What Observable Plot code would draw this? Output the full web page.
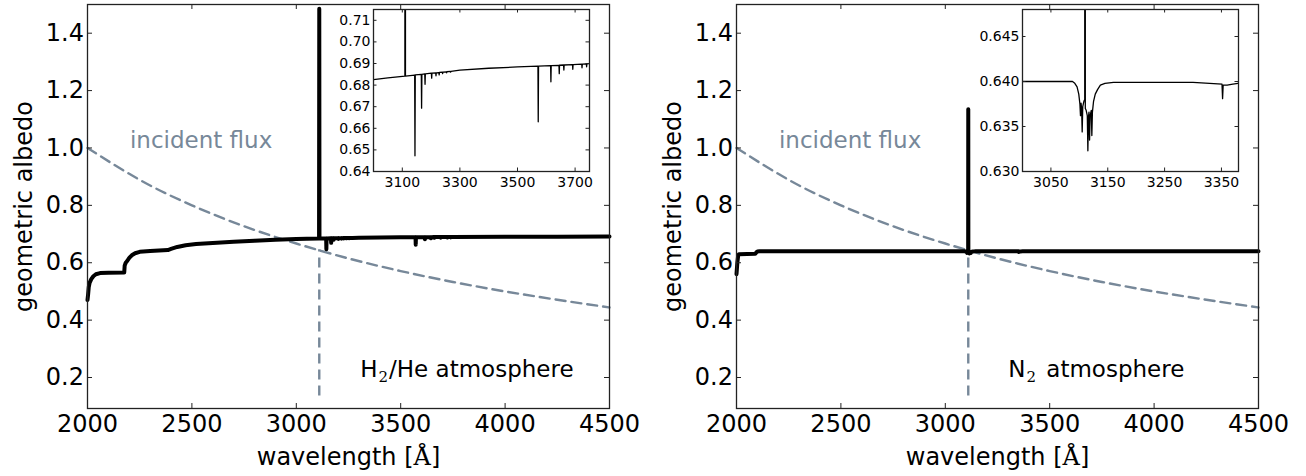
<!DOCTYPE html>
<html>
<head>
<meta charset="utf-8">
<script src="https://cdn.jsdelivr.net/npm/d3@7"></script>
<script src="https://cdn.jsdelivr.net/npm/@observablehq/plot@0.6"></script>
<style>
  html, body { margin: 0; padding: 0; background: #fff; }
  #wrap { position: relative; width: 1306px; height: 476px; overflow: hidden; font-family: "DejaVu Sans"; }
  #wrap > div { position: absolute; top: 0; }
</style>
</head>
<body>
<div id="wrap">
  <div id="leftMain" style="left:0px"></div>
  <div id="rightMain" style="left:653px"></div>
  <div id="leftInset" style="left:323px"></div>
  <div id="rightInset" style="left:962px"></div>
</div>
<script>
// ---------------- data ----------------
// H2/He atmosphere: geometric albedo spectrum
const h2Wave = [2000, 2003, 2006, 2010, 2018, 2028, 2040, 2060, 2100, 2176, 2178, 2183, 2190, 2200, 2212, 2228, 2250, 2300, 2385, 2400, 2430, 2470, 2520, 2600, 2700, 2800, 2900, 3000, 3050,
  3109, 3110, 3111,
  3143, 3144, 3145, 3166, 3167, 3168, 3178, 3179, 3180, 3201, 3202, 3203, 3216, 3217, 3218, 3227, 3228, 3229, 3239, 3240, 3241, 3253, 3254, 3255, 3267, 3268, 3269,
  3300, 3400, 3500,
  3571, 3572, 3573, 3615, 3616, 3617, 3644, 3645, 3646, 3660, 3661, 3662, 3691, 3692, 3693, 3723, 3724, 3725, 3739, 3740, 3741,
  3750, 4000, 4250, 4500];
const h2Alb = [0.470, 0.490, 0.515, 0.530, 0.543, 0.553, 0.560, 0.564, 0.565, 0.566, 0.590, 0.600, 0.606, 0.617, 0.626, 0.633, 0.638, 0.641, 0.644, 0.648, 0.655, 0.661, 0.665, 0.669, 0.673, 0.677, 0.680, 0.6825, 0.6833,
  0.6842, 1.485, 0.6842,
  0.6846, 0.6473, 0.6847, 0.6850, 0.6693, 0.6850, 0.6852, 0.6804, 0.6852, 0.6855, 0.6832, 0.6855, 0.6857, 0.6843, 0.6857, 0.6858, 0.6847, 0.6859, 0.6860, 0.6853, 0.6860, 0.6861, 0.6857, 0.6862, 0.6863, 0.6860, 0.6864,
  0.6869, 0.6878, 0.6884,
  0.6888, 0.6630, 0.6888, 0.6890, 0.6815, 0.6890, 0.6891, 0.6853, 0.6892, 0.6893, 0.6870, 0.6893, 0.6895, 0.6873, 0.6895, 0.6897, 0.6880, 0.6897, 0.6898, 0.6885, 0.6898,
  0.6900, 0.6905, 0.6910, 0.6915];

// N2 atmosphere: geometric albedo spectrum
const n2Wave = [2000, 2004, 2008, 2012, 2090, 2095, 2100, 2110, 3000, 3088, 3092, 3096, 3099, 3101, 3102, 3103, 3104, 3105, 3106, 3108, 3109.5,
  3110, 3110.5, 3112, 3114, 3115, 3116, 3117, 3118, 3119, 3121, 3122, 3123, 3125, 3128, 3132, 3137, 3145, 3160, 3300, 3351, 3352, 3353, 3360, 3370, 3380, 4500];
const n2Alb = [0.560, 0.600, 0.625, 0.630, 0.631, 0.636, 0.639, 0.640, 0.6400, 0.6400, 0.6398, 0.6394, 0.6386, 0.6375, 0.6362, 0.6376, 0.6370, 0.6344, 0.6372, 0.6378, 0.6380,
  1.135, 0.6370, 0.6368, 0.6362, 0.6323, 0.6360, 0.6366, 0.6335, 0.6362, 0.6368, 0.6340, 0.6366, 0.6378, 0.6386, 0.6391, 0.6396, 0.6398, 0.6399, 0.6399, 0.6397, 0.6381, 0.6396, 0.6396, 0.6397, 0.6398, 0.6400];

// incident stellar flux (normalised), dashed curve
const fluxWave = [2000, 2250, 2500, 2750, 3000, 3250, 3500, 3750, 4000, 4250, 4500];
const fluxVal  = [1.000, 0.889, 0.800, 0.727, 0.667, 0.615, 0.571, 0.533, 0.500, 0.471, 0.444];

// vertical dashed marker
const markerWave = 3110, markerTop = 0.645, markerBottom = 0.136;

// ticks
const mainXTicks = [2000, 2500, 3000, 3500, 4000, 4500];
const mainYTicks = [0.2, 0.4, 0.6, 0.8, 1.0, 1.2, 1.4];
const leftInsetXTicks = [3100, 3300, 3500, 3700];
const leftInsetYTicks = [0.64, 0.65, 0.66, 0.67, 0.68, 0.69, 0.70, 0.71];
const rightInsetXTicks = [3050, 3150, 3250, 3350];
const rightInsetYTicks = [0.630, 0.635, 0.640, 0.645];

// text
const fluxLabel = "incident flux";
const xLabel = "wavelength [Å]";
const yLabel = "geometric albedo";
const leftAtm = "H_2/He atmosphere";
const rightAtm = "N_2 atmosphere";

// ---------------- build ----------------
const toRows = (ws, vs) => ws.map((w, i) => ({w, a: vs[i]}));
const h2 = toRows(h2Wave, h2Alb);
const n2 = toRows(n2Wave, n2Alb);
const flux = toRows(fluxWave, fluxVal);

const frameColor = "#222";
const fluxColor = "#778899";

function panel(o) {
  const pw = o.width - o.mL - o.mR, ph = o.height - o.mT - o.mB;
  const tk = o.tickLen;
  return Plot.plot({
    width: o.width, height: o.height,
    marginLeft: o.mL, marginRight: o.mR, marginTop: o.mT, marginBottom: o.mB,
    style: {fontFamily: "DejaVu Sans", fontSize: o.fontSize + "px", background: "transparent", color: "#000", overflow: "visible"},
    x: {domain: o.xDomain, ticks: o.xTicks, tickSize: 0, tickPadding: o.xPad, tickFormat: o.xFmt, label: null},
    y: {domain: o.yDomain, ticks: o.yTicks, tickSize: 0, tickPadding: o.yPad, tickFormat: o.yFmt, label: null},
    marks: [
      ...o.marks,
      Plot.ruleX(o.xTicks, {x: d => d, insetTop: ph - tk, stroke: frameColor, strokeWidth: 1}),
      Plot.ruleX(o.xTicks, {x: d => d, insetBottom: ph - tk, stroke: frameColor, strokeWidth: 1}),
      Plot.ruleY(o.yTicks, {y: d => d, insetRight: pw - tk, stroke: frameColor, strokeWidth: 1}),
      Plot.ruleY(o.yTicks, {y: d => d, insetLeft: pw - tk, stroke: frameColor, strokeWidth: 1}),
      Plot.frame({stroke: frameColor, strokeWidth: 1.3})
    ]
  });
}

function mainPanel(spec, mL, mR, atmText, atmX) {
  return panel({
    width: 653, height: 476, mL, mR, mT: 4, mB: 68,
    xDomain: [2000, 4500], yDomain: [0.092, 1.5],
    xTicks: mainXTicks, yTicks: mainYTicks,
    xFmt: d => String(d), yFmt: d3.format(".1f"),
    fontSize: 24, tickLen: 5, xPad: 6, yPad: 3.5,
    marks: [
      Plot.line(flux, {x: "w", y: "a", stroke: fluxColor, strokeWidth: 2.4, strokeDasharray: "10,6", curve: "natural"}),
      Plot.ruleX([markerWave], {x: d => d, y1: markerBottom, y2: markerTop, stroke: fluxColor, strokeWidth: 2.4, strokeDasharray: "10,6"}),
      Plot.line(spec, {x: "w", y: "a", stroke: "#000", strokeWidth: 4}),
      Plot.text([{w: 2544, a: 1.026, t: fluxLabel}], {x: "w", y: "a", text: "t", fill: fluxColor, fontSize: 23, textAnchor: "middle", lineAnchor: "middle"}),
      Plot.text([{w: atmX, a: 0.229, t: atmText}], {x: "w", y: "a", text: "t", fill: "#000", fontSize: 23, textAnchor: "middle", lineAnchor: "middle"}),
      Plot.text([xLabel], {text: d => d, frameAnchor: "bottom", dy: 49, fontSize: 24, fill: "#000", textAnchor: "middle", lineAnchor: "middle"}),
      Plot.text([yLabel], {text: d => d, frameAnchor: "left", dx: -63, rotate: -90, fontSize: 24, fill: "#000", textAnchor: "middle", lineAnchor: "middle"})
    ]
  });
}

function insetPanel(spec, width, mL, xDomain, yDomain, xTicks, yTicks, yFmt) {
  return panel({
    width, height: 201, mL, mR: 10, mT: 9, mB: 30,
    xDomain, yDomain, xTicks, yTicks,
    xFmt: d => String(d), yFmt,
    fontSize: 14, tickLen: 3.5, xPad: 6, yPad: 3,
    marks: [
      Plot.frame({fill: "white"}),
      Plot.line(spec, {x: "w", y: "a", stroke: "#000", strokeWidth: 1.3, clip: true})
    ]
  });
}

// post-process mixed-font text (subscripts, serif Å)
function fixTexts(svg) {
  d3.select(svg).selectAll("text").each(function () {
    const t = this.textContent;
    const sel = d3.select(this);
    if (t === xLabel) {
      sel.text(null);
      sel.append("tspan").text("wavelength [");
      sel.append("tspan").attr("font-family", "DejaVu Serif").text("Å");
      sel.append("tspan").text("]");
    } else if (t.includes("_2")) {
      const [pre, post] = t.split("_2");
      sel.text(null);
      sel.append("tspan").text(pre);
      sel.append("tspan").attr("font-family", "DejaVu Serif").attr("font-size", "15px").attr("dy", 5).attr("dx", 1).text("2");
      sel.append("tspan").attr("dy", -5).attr("dx", post.startsWith(" ") ? 3 : 1).text(post);
    }
  });
}

const pL = mainPanel(h2, 87, 44, leftAtm, 3817);
const pR = mainPanel(n2, 83, 48, rightAtm, 3723);
fixTexts(pL); fixTexts(pR);
document.getElementById("leftMain").append(pL);
document.getElementById("rightMain").append(pR);
document.getElementById("leftInset").append(
  insetPanel(h2, 276, 50, [3000, 3750], [0.64, 0.715], leftInsetXTicks, leftInsetYTicks, d3.format(".2f")));
document.getElementById("rightInset").append(
  insetPanel(n2, 286, 60, [3000, 3380], [0.630, 0.648], rightInsetXTicks, rightInsetYTicks, d3.format(".3f")));
</script>
</body>
</html>
